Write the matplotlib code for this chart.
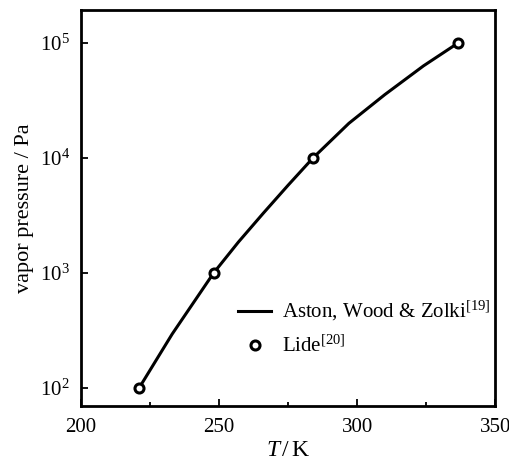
import matplotlib
matplotlib.use("Agg")
import matplotlib.pyplot as plt
from matplotlib.ticker import FixedLocator, NullLocator

plt.rcParams["font.family"] = ["Liberation Serif", "DejaVu Serif"]
plt.rcParams["mathtext.fontset"] = "custom"
plt.rcParams["mathtext.rm"] = "Liberation Serif"
plt.rcParams["mathtext.it"] = "Liberation Serif:italic"

# Aston, Wood & Zolki curve
curve_T = [221, 233, 248, 257, 266, 275, 284, 297, 310, 324, 336.6]
curve_P = [100, 295, 1000, 1860, 3310, 5800, 10000, 20000, 35500, 63100, 100000]

# Lide data points
lide_T = [221, 248, 284, 336.6]
lide_P = [100, 1000, 10000, 100000]

x_ticks = [200, 250, 300, 350]
y_ticks = [1e2, 1e3, 1e4, 1e5]

fig = plt.figure(figsize=(5.10, 4.66), dpi=100)
ax = fig.add_axes([0.159, 0.129, 0.812, 0.850])

ax.plot(curve_T, curve_P, color="black", lw=2.2,
        label="Aston, Wood & Zolki$^{[19]}$")
ax.plot(lide_T, lide_P, linestyle="none", marker="o", ms=6.5,
        mfc="white", mec="black", mew=2.2, label="Lide$^{[20]}$")

ax.set_yscale("log")
ax.set_xlim(200, 350)
ax.set_ylim(70, 1.94e5)
ax.xaxis.set_major_locator(FixedLocator(x_ticks))
ax.xaxis.set_minor_locator(FixedLocator([225, 275, 325]))
ax.yaxis.set_major_locator(FixedLocator(y_ticks))
ax.yaxis.set_minor_locator(NullLocator())

ax.tick_params(which="both", direction="in", labelsize=15, width=1.3)
ax.tick_params(which="major", length=5)
ax.tick_params(which="minor", length=3)
ax.tick_params(axis="x", pad=9)
ax.tick_params(axis="y", pad=8)
for s in ax.spines.values():
    s.set_linewidth(2)

ax.set_xlabel("$T\\,/\\,$K", fontsize=17, labelpad=2)
ax.set_ylabel("vapor pressure / Pa", fontsize=16, labelpad=4)

ax.legend(loc="upper left", bbox_to_anchor=(0.359, 0.29), frameon=False,
          fontsize=15, handlelength=1.6, labelspacing=0.6, handletextpad=0.5,
          borderaxespad=0)

fig.savefig("out.png", dpi=100)
